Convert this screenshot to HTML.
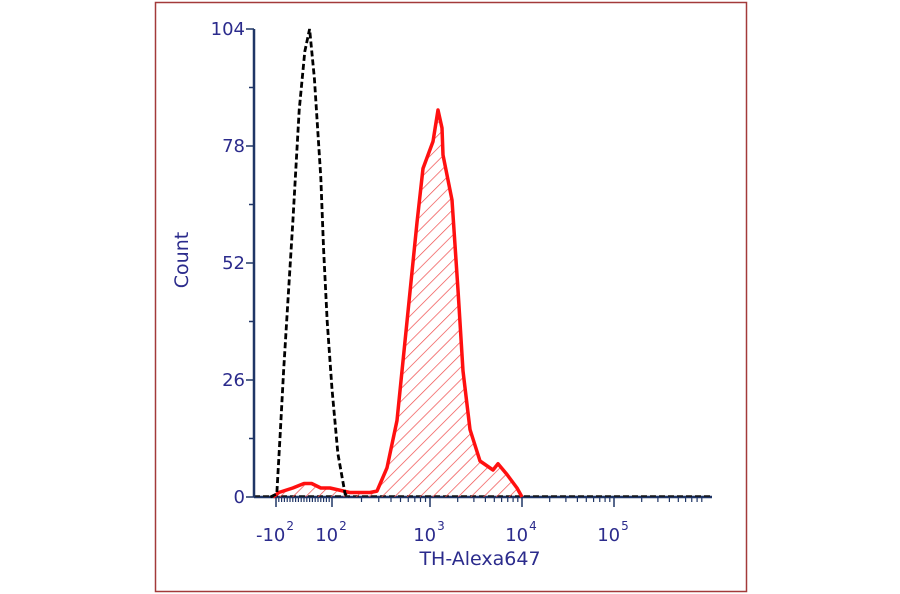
<!DOCTYPE html>
<html><head><meta charset="utf-8">
<style>
html,body{margin:0;padding:0;background:#fff;}
#wrap{position:relative;width:900px;height:594px;overflow:hidden;}
svg text{font-family:"DejaVu Sans","Liberation Sans",sans-serif;fill:#2b2b8c;}
</style></head>
<body>
<div id="wrap">
<svg id="chart" width="900" height="594" viewBox="0 0 900 594">
<defs>
<pattern id="hatch" patternUnits="userSpaceOnUse" width="9" height="9" patternTransform="rotate(45)">
<line x1="0" y1="0" x2="0" y2="9" stroke="#f04a4a" stroke-width="1.4"/>
</pattern>
</defs>
<rect x="155.5" y="2.5" width="591" height="589" fill="none" stroke="#a33a3a" stroke-width="1.5"/>
<g id="plot"></g>
</svg>
</div>
<script>
// ---- data ----
const yTicks = [0, 26, 52, 78, 104];
const xTickValues = [-100, 100, 1000, 10000, 100000];
const xTickLabels = ["-10", "10", "10", "10", "10"];
const xTickExps = ["2", "2", "3", "4", "5"];
const isoX = [-120, -97, -85, -73, -55, -40, -17, 3, 20, 37, 60, 70, 83, 100, 115, 136, 150];
const isoY = [0, 0.7, 14, 28, 46, 61, 86, 99, 104, 93, 71, 55, 39, 24, 9.6, 0.7, 0];
const thX = [-110, -90, -40, 0, 27, 60, 93, 152, 244, 288, 364, 461, 583, 737, 848, 955, 1078, 1222, 1350, 1384, 1735, 2016, 2283, 2723, 3493, 4844, 5491, 6870, 8831, 10000];
const thY = [0, 1, 2, 3, 3, 2, 2, 1, 1, 1.3, 6.5, 17, 39, 61, 73, 76, 79, 86, 82, 76, 66, 46, 28, 15, 8, 6, 7.4, 5, 2, 0];

// ---- scales ----
const Y0 = 497, YTOP = 29, YMAX = 104;
function yScale(v){ return Y0 - (v / YMAX) * (Y0 - YTOP); }
function xScale(v){
  if (v <= 100) return 304 + (v / 100) * 28;
  if (v <= 1000) return 332 + 98 * Math.log10(v / 100);
  return 430 + 92 * Math.log10(v / 1000);
}
const XEND = 712;

const NS = "http://www.w3.org/2000/svg";
const plot = document.getElementById('plot');
function mk(tag, attrs, parent){
  const e = document.createElementNS(NS, tag);
  for (const k in attrs) e.setAttribute(k, attrs[k]);
  (parent || plot).appendChild(e);
  return e;
}
function pathFrom(xs, ys){
  let d = "";
  for (let i = 0; i < xs.length; i++){
    const px = Math.min(xScale(xs[i]), XEND);
    d += (i ? "L" : "M") + px.toFixed(1) + "," + yScale(ys[i]).toFixed(1);
  }
  return d;
}

const AX = "#1f3566";
const xAxis = mk('line', {x1: 254, y1: Y0, x2: XEND, y2: Y0, stroke: AX, "stroke-width": 2.5});


const base = mk('line', {x1: 254, y1: Y0 - 1, x2: XEND, y2: Y0 - 1, stroke: "#111", "stroke-width": 1.5, "stroke-dasharray": "6,3"});



const thFill = mk('path', {d: pathFrom(thX, thY) + "Z", fill: "url(#hatch)", stroke: "none"});


const thLine = mk('path', {d: pathFrom(thX, thY), fill: "none", stroke: "#ff1010", "stroke-width": 3.5, "stroke-linejoin": "round"});



const iso = mk('path', {d: pathFrom(isoX, isoY), fill: "none", stroke: "#000", "stroke-width": 2.8, "stroke-dasharray": "6,3"});



const yAxis = mk('line', {x1: 254, y1: YTOP, x2: 254, y2: Y0, stroke: AX, "stroke-width": 2.5});



for (let v = 0; v <= YMAX; v += 13){
  const major = yTicks.indexOf(v) >= 0;
  mk('line', {x1: major ? 246 : 249, y1: yScale(v), x2: 254, y2: yScale(v), stroke: AX, "stroke-width": 1.5});
}
yTicks.forEach(v => {
  const t = mk('text', {x: 245, y: yScale(v) + 6, "text-anchor": "end", "font-size": 18});
  t.textContent = String(v);
  
  
});

const minor = [];
for (let v = -90; v <= 90; v += 10) minor.push(v);
[100, 1000, 10000, 100000].forEach(d => { for (let m = 2; m <= 9; m++) minor.push(d * m); });
minor.forEach(v => {
  const px = xScale(v);
  if (px > XEND) return;
  mk('line', {x1: px, y1: Y0, x2: px, y2: Y0 + 5, stroke: AX, "stroke-width": 1.2});
});
xTickValues.forEach((v, i) => {
  const px = xScale(v);
  mk('line', {x1: px, y1: Y0, x2: px, y2: Y0 + 10, stroke: AX, "stroke-width": 1.5});
  const t = mk('text', {x: px - 1, y: 541, "text-anchor": "middle", "font-size": 18});
  
  
  const base = document.createElementNS(NS, 'tspan');
  base.textContent = xTickLabels[i];
  t.appendChild(base);
  const e = document.createElementNS(NS, 'tspan');
  e.setAttribute('font-size', '12');
  e.setAttribute('dy', '-11');
  e.setAttribute('dx', '1');
  e.textContent = xTickExps[i];
  
  
  t.appendChild(e);
});

const xt = mk('text', {x: 480, y: 565, "text-anchor": "middle", "font-size": 19});
xt.textContent = "TH-Alexa647";


const yt = mk('text', {x: 0, y: 0, "text-anchor": "middle", "font-size": 19, transform: "translate(188,260) rotate(-90)"});
yt.textContent = "Count";


</script>
</body></html>
